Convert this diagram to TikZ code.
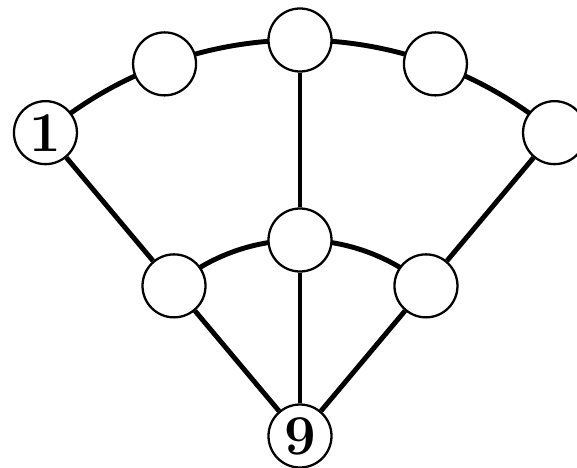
\documentclass[tikz,border=0pt]{standalone}
\usetikzlibrary{backgrounds}
\begin{document}
\begin{tikzpicture}[
    vertex/.style={circle, draw, line width=0.65pt, fill=white,
      minimum size=0.63cm, inner sep=0pt, font=\fontsize{16}{16}\selectfont\bfseries},
    edge/.style={line width=1.4pt}]
  \useasboundingbox (-3,-0.31) rectangle (2.77,4.36);

  % bottom and inner ring
  \node [vertex] (n9) at (0,0) {9};
  \node [vertex] (i1) at (130:1.96) {};
  \node [vertex] (i2) at (90:1.96) {};
  \node [vertex] (i3) at (50:1.96) {};

  % outer ring
  \node [vertex] (o1) at (130:3.96) {1};
  \node [vertex] (o2) at (110:3.96) {};
  \node [vertex] (o3) at (90:3.96) {};
  \node [vertex] (o4) at (70:3.96) {};
  \node [vertex] (o5) at (50:3.96) {};

  \begin{scope}[on background layer]
    \draw [edge] (n9) -- (i1) -- (o1);
    \draw [edge] (n9) -- (i2) -- (o3);
    \draw [edge] (n9) -- (i3) -- (o5);
    \draw [edge] (i1.center) arc [start angle=130, end angle=50, radius=1.96];
    \draw [edge] (o1.center) arc [start angle=130, end angle=50, radius=3.96];
  \end{scope}
\end{tikzpicture}
\end{document}
